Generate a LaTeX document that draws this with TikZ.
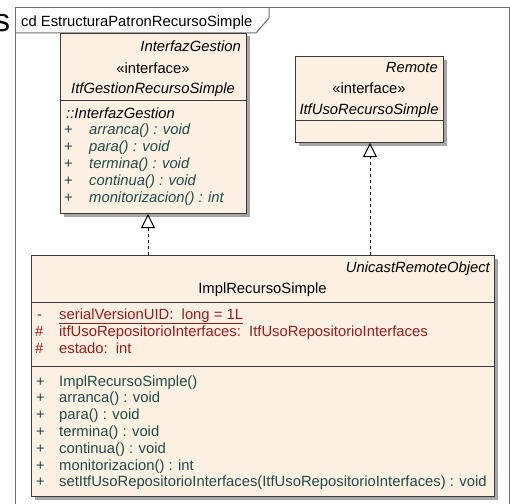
\documentclass[tikz,border=0pt]{standalone}
\usepackage{fontspec}
\setmainfont{Liberation Sans}
\usetikzlibrary{arrows.meta,shadows}
\definecolor{classfill}{HTML}{FBF0E2}
\definecolor{classline}{HTML}{3A3A3A}
\definecolor{frameline}{HTML}{707070}
\definecolor{opcolor}{HTML}{1F4B48}
\definecolor{attrcolor}{HTML}{9A1B1B}
\tikzset{
  umlfont/.style={font=\fontsize{14.8}{17}\selectfont},
  classbox/.style={draw=classline, fill=classfill, line width=1pt, rectangle,
    anchor=north west, inner sep=0pt,
    drop shadow={shadow xshift=3pt, shadow yshift=-3pt, fill=black!35, opacity=1}},
  txt/.style={umlfont, inner sep=0pt, anchor=base west, text=black},
  rtxt/.style={txt, anchor=base east},
  ctxt/.style={txt, anchor=base},
  op/.style={txt, text=opcolor},
  attr/.style={txt, text=attrcolor},
  sepline/.style={draw=classline, line width=1pt},
  realize/.style={draw=black, line width=1pt, dash pattern=on 3pt off 3pt,
    -{Triangle[open, length=14pt, width=14pt, line width=1pt]}},
}
\begin{document}
\begin{tikzpicture}[x=1pt, y=-1pt]
\useasboundingbox (0,0) rectangle (510,503);

% clipped heading letter at the far left
\node[inner sep=0pt, anchor=base west, font=\fontsize{32}{36}\selectfont] (cut) at (-6,32) {s};

% diagram frame with its name tab
\draw[frameline, line width=1pt] (15,510) -- (15,8) -- (509,8) -- (509,510);
\draw[frameline, line width=1pt] (15,33) -- (256,33) -- (269,18) -- (269,8);
\node[txt] (frametitle) at (21,27) {cd EstructuraPatronRecursoSimple};

% ---- ItfGestionRecursoSimple ----
\node[classbox, minimum width=186pt, minimum height=180pt] (gest) at (60,33) {};
\node[rtxt, font=\fontsize{14.8}{17}\itshape] (gestparent) at (241,52) {InterfazGestion};
\node[ctxt] (gestster) at (153,73) {«interface»};
\node[ctxt, font=\fontsize{14.8}{17}\itshape] (gestname) at (153,93) {ItfGestionRecursoSimple};
\draw[sepline] (gest.west |- 0,100) -- (gest.east |- 0,100);
\node[txt, font=\fontsize{14.8}{17}\itshape] (gestfrom) at (66,118) {::InterfazGestion};
\foreach \i/\t in {0/{arranca() : void}, 1/{para() : void}, 2/{termina() : void},
                   3/{continua() : void}, 4/{monitorizacion() : int}} {
  \node[op] (gestvis\i) at (64,134.8+16.8*\i) {+};
  \node[op, font=\fontsize{14.8}{17}\itshape] (gestop\i) at (89,134.8+16.8*\i) {\t};
}

% ---- ItfUsoRecursoSimple ----
\node[classbox, minimum width=148pt, minimum height=86pt] (uso) at (295,56) {};
\node[rtxt, font=\fontsize{14.8}{17}\itshape] (usoparent) at (438,72) {Remote};
\node[ctxt] (usoster) at (369,93) {«interface»};
\node[ctxt, font=\fontsize{14.8}{17}\itshape] (usoname) at (369,114) {ItfUsoRecursoSimple};
\draw[sepline] (uso.west |- 0,120) -- (uso.east |- 0,120);

% ---- ImplRecursoSimple ----
\node[classbox, minimum width=463pt, minimum height=241pt] (impl) at (31,255) {};
\node[rtxt, font=\fontsize{14.8}{17}\itshape] (implparent) at (490,272) {UnicastRemoteObject};
\node[ctxt] (implname) at (262.5,293) {ImplRecursoSimple};
\draw[sepline] (impl.west |- 0,302) -- (impl.east |- 0,302);
\node[attr] (attrvis0) at (37,319) {-};
\node[attr] (attr0) at (59,319) {\underline{serialVersionUID:\ \ long = 1L}};
\node[attr] (attrvis1) at (35,336) {\#};
\node[attr] (attr1) at (59,336) {itfUsoRepositorioInterfaces:\ \ ItfUsoRepositorioInterfaces};
\node[attr] (attrvis2) at (35,353) {\#};
\node[attr] (attr2) at (59,353) {estado:\ \ int};
\draw[sepline] (impl.west |- 0,366) -- (impl.east |- 0,366);
\foreach \i/\t in {0/{ImplRecursoSimple()}, 1/{arranca() : void}, 2/{para() : void},
                   3/{termina() : void}, 4/{continua() : void}, 5/{monitorizacion() : int},
                   6/{setItfUsoRepositorioInterfaces(ItfUsoRepositorioInterfaces) : void}} {
  \node[op] (implvis\i) at (36,386+16.8*\i) {+};
  \node[op] (implop\i) at (59,386+16.8*\i) {\t};
}

% realizations
\coordinate (g1) at (148,0);
\coordinate (g2) at (370,0);
\draw[realize] (g1 |- impl.north) -- (g1 |- gest.south);
\draw[realize] (g2 |- impl.north) -- (g2 |- uso.south);
\end{tikzpicture}
\end{document}
